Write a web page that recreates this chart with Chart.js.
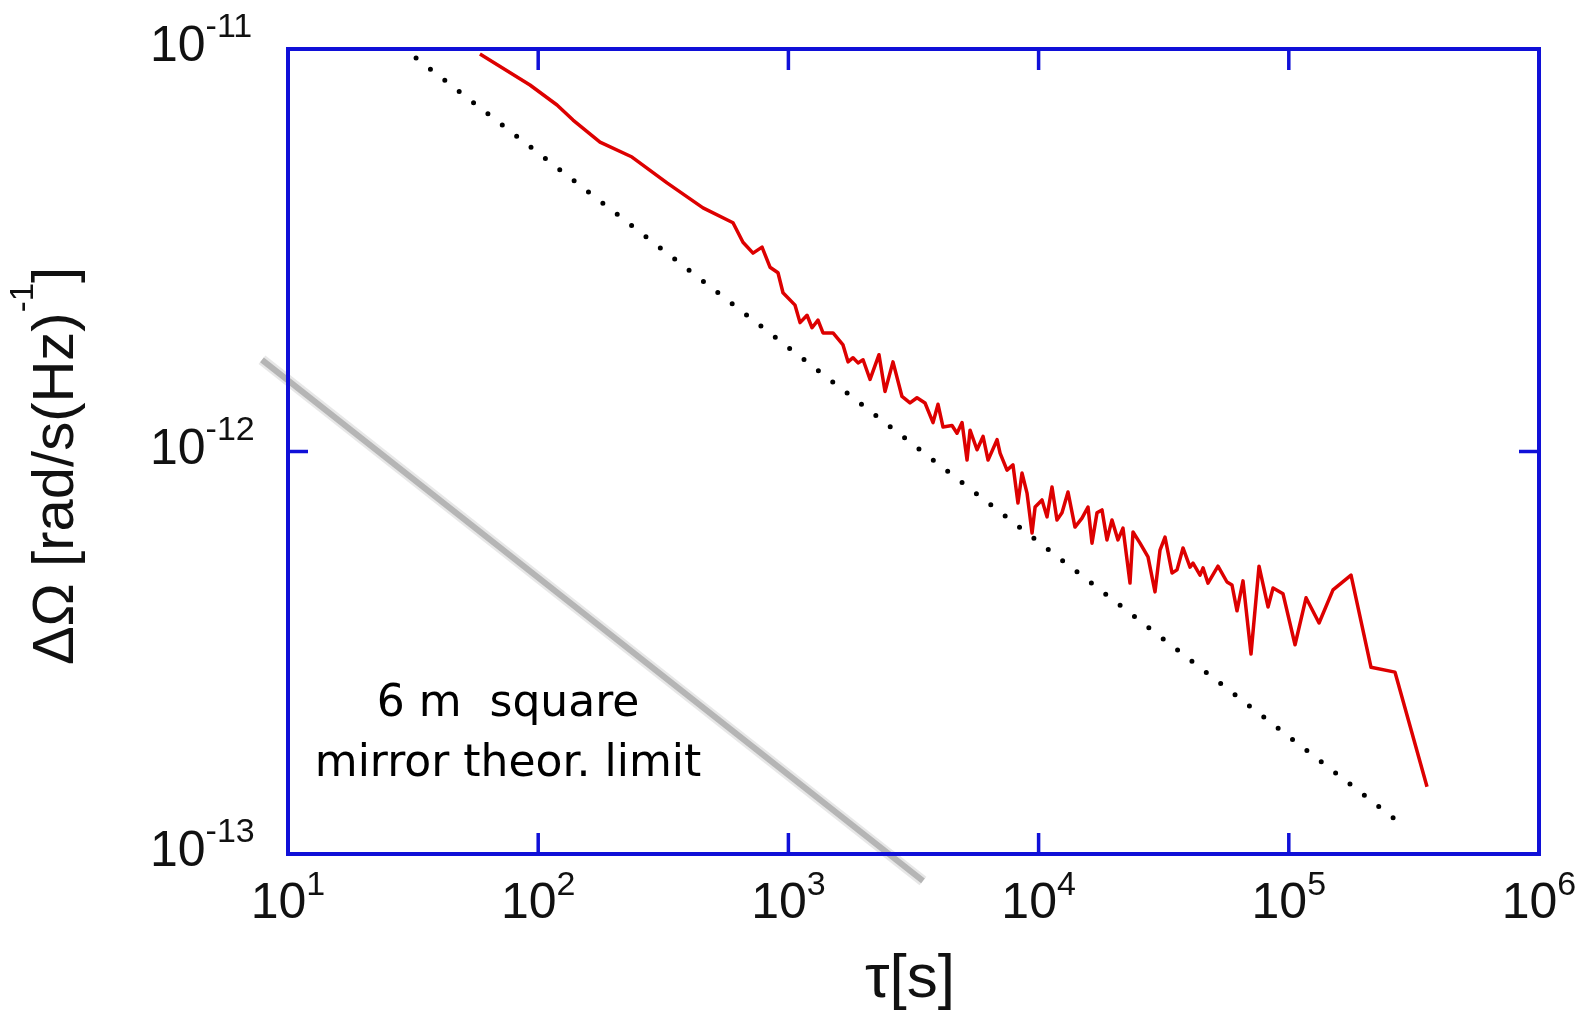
<!DOCTYPE html>
<html lang="en">
<head>
<meta charset="UTF-8" />
<title>Rotation sensitivity vs averaging time</title>
<style>
  html, body { margin: 0; padding: 0; background: #fff; }
  canvas { display: block; }
</style>
</head>
<body>
<canvas id="myChart" width="1591" height="1010"></canvas>
<script src="https://cdn.jsdelivr.net/npm/chart.js@4"></script>
<script>
// measured sensitivity (red), tau in s, omega in rad/s/sqrt(Hz)
const tauMeasured = [
  58.5, 92.7, 118.9, 137.8, 176.6, 237.1, 327.2, 455.7, 600.6, 658.3,
  722.1, 784.5, 844.2, 908.7, 951.5, 1063, 1113, 1187, 1243, 1313,
  1375, 1508, 1653, 1731, 1813, 1898, 1988, 2120, 2302, 2433,
  2618, 2844, 3062, 3266, 3516, 3785, 3963, 4150, 4508, 4720,
  4943, 5176, 5321, 5675, 5998, 6281, 6823, 7015, 7477, 7900,
  8270, 8586, 8990, 9414, 9683, 10318, 10804, 11312, 11843, 12401,
  13108, 13978, 14910, 15756, 16346, 17115, 17920, 18765, 19648, 20760,
  21740, 23190, 23840, 25430, 27370, 29190, 30570, 32010, 34140, 35750,
  37770, 40290, 41420, 44180, 45420, 47540, 52120, 56620, 59290, 62090,
  65610, 70630, 76030, 82600, 86500, 94830, 105900, 117200, 132100, 150200,
  177300, 213100, 265800, 356800
];
const omegaMeasured = [
  9.72e-12, 8.14e-12, 7.26e-12, 6.66e-12, 5.87e-12, 5.39e-12, 4.65e-12, 4.03e-12, 3.70e-12, 3.31e-12,
  3.11e-12, 3.22e-12, 2.87e-12, 2.78e-12, 2.48e-12, 2.31e-12, 2.09e-12, 2.18e-12, 2.03e-12, 2.12e-12,
  1.97e-12, 1.97e-12, 1.84e-12, 1.67e-12, 1.71e-12, 1.66e-12, 1.69e-12, 1.51e-12, 1.74e-12, 1.41e-12,
  1.67e-12, 1.37e-12, 1.32e-12, 1.36e-12, 1.32e-12, 1.18e-12, 1.31e-12, 1.15e-12, 1.16e-12, 1.11e-12,
  1.18e-12, 9.52e-13, 1.13e-12, 1.01e-12, 1.09e-12, 9.52e-13, 1.07e-12, 9.91e-13, 8.99e-13, 9.26e-13,
  7.45e-13, 8.84e-13, 7.88e-13, 6.27e-13, 7.28e-13, 7.58e-13, 6.88e-13, 8.16e-13, 6.76e-13, 7.04e-13,
  7.93e-13, 6.49e-13, 6.83e-13, 7.28e-13, 5.92e-13, 7.04e-13, 7.16e-13, 6.03e-13, 6.76e-13, 6.03e-13,
  6.45e-13, 4.71e-13, 6.31e-13, 5.92e-13, 5.47e-13, 4.48e-13, 5.69e-13, 6.13e-13, 4.99e-13, 5.08e-13,
  5.76e-13, 5.16e-13, 5.28e-13, 4.93e-13, 5.14e-13, 4.71e-13, 5.19e-13, 4.74e-13, 4.66e-13, 4.02e-13,
  4.77e-13, 3.14e-13, 5.19e-13, 4.11e-13, 4.58e-13, 4.43e-13, 3.31e-13, 4.33e-13, 3.75e-13, 4.53e-13,
  4.93e-13, 2.91e-13, 2.83e-13, 1.47e-13
];

// tau^-1/2 guide (black dots)
const tauGuide = [32.5, 270700];
const omegaGuide = [9.5e-12, 1.21e-13];

// 6 m square mirror theoretical limit (grey band)
const tauLimit = [7.87, 3450];
const omegaLimit = [1.69e-12, 8.57e-14];

// decade exponents used for tick labels
const xExponents = [1, 2, 3, 4, 5, 6];
const yExponents = [-11, -12, -13];

const BLUE = "#1010d8";
const SANS = '"Liberation Sans", Arial, Helvetica, sans-serif';

function pts(xs, ys) {
  return xs.map((v, i) => ({ x: v, y: ys[i] }));
}

// draws pieces [{t, size, rise}] one after another from x, baseline y
function drawRuns(ctx, runs, x, y, align) {
  let total = 0;
  runs.forEach((r) => {
    ctx.font = r.size + "px " + SANS;
    r.w = ctx.measureText(r.t).width;
    total += r.w;
  });
  let cx = align === "center" ? x - total / 2 : align === "right" ? x - total : x;
  ctx.textAlign = "left";
  ctx.textBaseline = "alphabetic";
  runs.forEach((r) => {
    ctx.font = r.size + "px " + SANS;
    ctx.fillText(r.t, cx, y - (r.rise || 0));
    cx += r.w;
  });
}

const framePlugin = {
  id: "frame",
  afterDatasetsDraw(chart) {
    const { ctx, chartArea: a, scales } = chart;
    const sx = scales.x, sy = scales.y;
    ctx.save();
    ctx.strokeStyle = BLUE;
    ctx.lineWidth = 4;
    ctx.strokeRect(a.left, a.top, a.right - a.left, a.bottom - a.top);

    // inward ticks on all four sides
    ctx.lineWidth = 3.5;
    ctx.beginPath();
    xExponents.slice(1, -1).forEach((e) => {
      const px = sx.getPixelForValue(Math.pow(10, e));
      ctx.moveTo(px, a.bottom); ctx.lineTo(px, a.bottom - 21);
      ctx.moveTo(px, a.top); ctx.lineTo(px, a.top + 21);
    });
    yExponents.slice(1, -1).forEach((e) => {
      const py = sy.getPixelForValue(Math.pow(10, e));
      ctx.moveTo(a.left, py); ctx.lineTo(a.left + 20, py);
      ctx.moveTo(a.right, py); ctx.lineTo(a.right - 20, py);
    });
    ctx.stroke();

    ctx.fillStyle = "#111";
    xExponents.forEach((e) => {
      const px = sx.getPixelForValue(Math.pow(10, e));
      drawRuns(ctx, [{ t: "10", size: 50 }, { t: String(e), size: 34, rise: 23 }], px, a.bottom + 64, "center");
    });
    yExponents.forEach((e) => {
      const py = sy.getPixelForValue(Math.pow(10, e));
      drawRuns(ctx, [{ t: "10", size: 50 }, { t: String(e), size: 34, rise: 24 }], 150, py + 12, "left");
    });

    // axis titles
    drawRuns(ctx, [{ t: "\u03c4[s]", size: 62 }], 910, 997, "center");
    ctx.save();
    ctx.translate(73, 466);
    ctx.rotate(-Math.PI / 2);
    drawRuns(ctx, [
      { t: "\u0394\u03a9 [rad/s(Hz)", size: 58 },
      { t: "-1", size: 33, rise: 40 },
      { t: "]", size: 58 }
    ], 0, 0, "center");
    ctx.restore();

    // annotation
    ctx.fillStyle = "#000";
    ctx.textAlign = "center";
    ctx.textBaseline = "alphabetic";
    ctx.font = '44px "Comic Sans MS", "DejaVu Sans", sans-serif';
    ctx.fillText("6 m  square", 508, 716);
    ctx.fillText("mirror theor. limit", 508, 776);
    ctx.restore();
  }
};

const ctx = document.getElementById("myChart").getContext("2d");
new Chart(ctx, {
  type: "scatter",
  data: {
    datasets: [
      {
        label: "limit halo",
        data: pts(tauLimit, omegaLimit),
        showLine: true,
        borderColor: "rgba(185,185,185,0.35)",
        borderWidth: 11,
        pointRadius: 0,
        clip: false
      },
      {
        label: "6 m square mirror theor. limit",
        data: pts(tauLimit, omegaLimit),
        showLine: true,
        borderColor: "#b2b2b2",
        borderWidth: 6,
        pointRadius: 0,
        clip: false
      },
      {
        label: "tau^-1/2",
        data: pts(tauGuide, omegaGuide),
        showLine: true,
        borderColor: "#000",
        borderWidth: 5,
        borderDash: [0, 18.2],
        borderCapStyle: "round",
        pointRadius: 0
      },
      {
        label: "measured",
        data: pts(tauMeasured, omegaMeasured),
        showLine: true,
        borderColor: "#dd0000",
        borderWidth: 3.5,
        borderJoinStyle: "round",
        pointRadius: 0,
        tension: 0
      }
    ]
  },
  options: {
    responsive: false,
    animation: false,
    devicePixelRatio: 1,
    layout: { padding: { left: 288, right: 52, top: 49, bottom: 156 } },
    plugins: { legend: { display: false }, tooltip: { enabled: false } },
    scales: {
      x: { type: "logarithmic", min: 10, max: 1e6, display: false },
      y: { type: "logarithmic", min: 1e-13, max: 1e-11, display: false }
    }
  },
  plugins: [framePlugin]
});
</script>
</body>
</html>
